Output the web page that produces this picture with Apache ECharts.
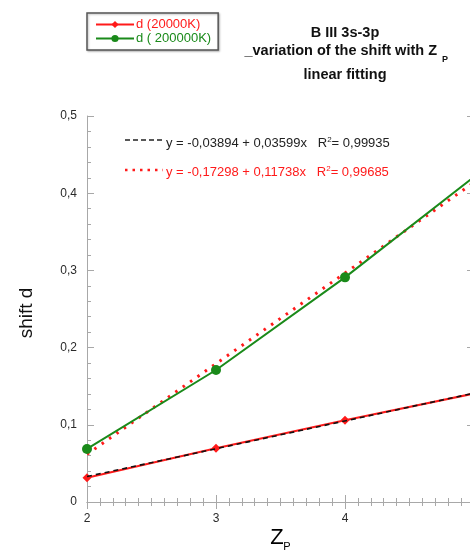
<!DOCTYPE html>
<html>
<head>
<meta charset="utf-8">
<script src="https://cdn.jsdelivr.net/npm/echarts@6/dist/echarts.min.js"></script>
<style>html,body{margin:0;padding:0;background:#fff;}#c{width:470px;height:554px;}</style>
</head>
<body>
<div id="c"></div>
<script>
// ---- data ----
const zp = [2, 3, 4, 5];
const d20000K = [0.0315, 0.0696, 0.106, 0.1405];
const d200000K = [0.0687, 0.171, 0.291, 0.421];
const fitX = [2, 5];
const fitBlack = [0.0330, 0.1410];   // y = -0,03894 + 0,03599x
const fitRed = [0.0618, 0.4139];     // y = -0,17298 + 0,11738x
const seriesNames = ['d (20000K)', 'd ( 200000K)'];
const fitLabels = ['y = -0,03894 + 0,03599x', 'y = -0,17298 + 0,11738x'];
const r2Labels = ['0,99935', '0,99685'];
const titleLines = ['B III 3s-3p', '_variation of the shift with Z', 'linear fitting'];
const yAxisTitle = 'shift d';

const FONT = '"Liberation Sans", Arial, Helvetica, sans-serif';
const RED = '#ff1a1a';
const GREEN = '#1a8a1a';
const AXIS = '#a8a8a8';

function pts(xs, ys, hideLast) {
  return xs.map((x, i) => (hideLast && i === xs.length - 1) ? {value: [x, ys[i]], symbol: 'none'} : [x, ys[i]]);
}

const chart = echarts.init(document.getElementById('c'), null, {renderer: 'canvas'});

const baseX = {
  type: 'value', min: 2, max: 5, interval: 1,
  axisLine: {show: true, lineStyle: {color: AXIS, width: 1}},
  axisTick: {show: true, inside: true, length: 7, lineStyle: {color: AXIS}},
  minorTick: {show: true, splitNumber: 10, length: 4, lineStyle: {color: AXIS}},
  splitLine: {show: false},
  minorSplitLine: {show: false}
};
const baseY = {
  type: 'value', min: 0, max: 0.5, interval: 0.1,
  axisLine: {show: true, lineStyle: {color: AXIS, width: 1}},
  axisTick: {show: true, inside: true, length: 7, lineStyle: {color: AXIS}},
  minorTick: {show: true, splitNumber: 5, length: 4, lineStyle: {color: AXIS}},
  splitLine: {show: false},
  minorSplitLine: {show: false}
};

const TITLE_FONT = 'bold 14.5px ' + FONT;

const option = {
  backgroundColor: '#fff',
  animation: false,
  textStyle: {fontFamily: FONT},
  grid: {left: 87, top: 116, right: -4, bottom: 52, outerBoundsMode: 'none', containLabel: false},
  xAxis: [
    Object.assign({}, baseX, {
      position: 'bottom',
      axisLabel: {show: true, color: '#2a2a2a', fontSize: 12, fontFamily: FONT, margin: 11,
        formatter: v => (v === 5 ? '' : String(v))}
    }),
    Object.assign({}, baseX, {position: 'top', axisLabel: {show: false}})
  ],
  yAxis: [
    Object.assign({}, baseY, {
      position: 'left',
      axisLabel: {show: true, color: '#2a2a2a', fontSize: 12, fontFamily: FONT, margin: 10,
        formatter: v => String(Math.round(v * 10) / 10).replace('.', ',')}
    }),
    Object.assign({}, baseY, {position: 'right', axisLabel: {show: false}})
  ],
  legend: {
    orient: 'vertical', left: 87, top: 13,
    padding: [5, 7, 5, 8], itemGap: 1,
    itemWidth: 38, itemHeight: 9,
    borderColor: '#555', borderWidth: 1.5,
    shadowColor: 'rgba(0,0,0,0.25)', shadowBlur: 2, shadowOffsetX: 1, shadowOffsetY: 1,
    backgroundColor: '#fff',
    data: [
      {name: seriesNames[0], textStyle: {color: RED}},
      {name: seriesNames[1], textStyle: {color: GREEN}}
    ],
    textStyle: {fontSize: 13, fontFamily: FONT, padding: [0, 0, 0, -3]}
  },
  graphic: [
    {type: 'text', x: 345, y: 33, style: {text: titleLines[0], font: TITLE_FONT, fill: '#111', align: 'center', verticalAlign: 'middle'}},
    {type: 'text', x: 437, y: 51, style: {text: titleLines[1], font: TITLE_FONT, fill: '#111', align: 'right', verticalAlign: 'middle'}},
    {type: 'text', x: 445, y: 60, style: {text: 'P', font: 'bold 9px ' + FONT, fill: '#111', align: 'center', verticalAlign: 'middle'}},
    {type: 'text', x: 345, y: 75, style: {text: titleLines[2], font: TITLE_FONT, fill: '#111', align: 'center', verticalAlign: 'middle'}},
    // y axis title
    {type: 'text', x: 27, y: 313, rotation: Math.PI / 2,
      style: {text: yAxisTitle, font: '19px ' + FONT, fill: '#111', align: 'center', verticalAlign: 'middle'}},
    // fit annotations
    {type: 'line', shape: {x1: 125, y1: 140, x2: 163, y2: 140}, style: {stroke: '#222', lineWidth: 1.5, lineDash: [5, 3]}},
    {type: 'text', x: 166, y: 143, style: {
      text: '{t|' + fitLabels[0] + '   R}{s|2}{t|= ' + r2Labels[0] + '}',
      rich: {t: {font: '13px ' + FONT, fill: '#222', verticalAlign: 'bottom'}, s: {font: '8px ' + FONT, fill: '#222', verticalAlign: 'top', padding: [0, 0, 6, 0]}},
      verticalAlign: 'middle'}},
    {type: 'line', shape: {x1: 125, y1: 170, x2: 163, y2: 170}, style: {stroke: RED, lineWidth: 2.5, lineDash: [2.5, 5]}},
    {type: 'text', x: 166, y: 172, style: {
      text: '{t|' + fitLabels[1] + '   R}{s|2}{t|= ' + r2Labels[1] + '}',
      rich: {t: {font: '13px ' + FONT, fill: RED, verticalAlign: 'bottom'}, s: {font: '8px ' + FONT, fill: RED, verticalAlign: 'top', padding: [0, 0, 6, 0]}},
      verticalAlign: 'middle'}},
    // x axis title Z_P
    {type: 'text', x: 277, y: 538, style: {text: 'Z', font: '22px ' + FONT, fill: '#000', align: 'center', verticalAlign: 'middle'}},
    {type: 'text', x: 287, y: 547, style: {text: 'P', font: '11px ' + FONT, fill: '#000', align: 'center', verticalAlign: 'middle'}}
  ],
  series: [
    {
      name: seriesNames[0], type: 'line', xAxisIndex: 0, yAxisIndex: 0,
      data: pts(zp, d20000K, true),
      symbol: 'diamond', symbolSize: 9, showSymbol: true,
      lineStyle: {color: RED, width: 2}, itemStyle: {color: RED}, z: 3
    },
    {
      name: 'fit-black', type: 'line', xAxisIndex: 0, yAxisIndex: 0,
      data: pts(fitX, fitBlack, false), symbol: 'none',
      lineStyle: {color: '#111', width: 1.6, type: [5, 4]}, z: 4, silent: true
    },
    {
      name: seriesNames[1], type: 'line', xAxisIndex: 0, yAxisIndex: 0,
      data: pts(zp, d200000K, true),
      symbol: 'circle', symbolSize: 10, showSymbol: true,
      lineStyle: {color: GREEN, width: 2}, itemStyle: {color: GREEN}, z: 3
    },
    {
      name: 'fit-red', type: 'line', xAxisIndex: 0, yAxisIndex: 0,
      data: pts(fitX, fitRed, false), symbol: 'none',
      lineStyle: {color: RED, width: 3, type: [2.5, 6.5], cap: 'butt'}, z: 2, silent: true
    }
  ]
};
chart.setOption(option);
</script>
</body>
</html>
